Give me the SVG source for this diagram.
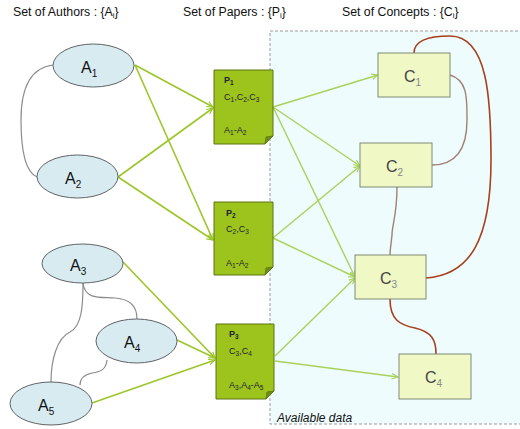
<svg xmlns="http://www.w3.org/2000/svg" width="520" height="429" viewBox="0 0 520 429">
<style>
text{font-family:"Liberation Sans",Arial,sans-serif}
.hdr{font-size:12.3px;fill:#111}
.auth ellipse{fill:#d8ebf1;stroke:#5f6366;stroke-width:1}
.auth text{font-size:16px;fill:#111}
.paper .pg{fill:#9cc41c;stroke:#5d7412;stroke-width:1}
.paper .fold{fill:#6f8f14;stroke:#5d7412;stroke-width:0.8}
.paper text{font-size:9px;fill:#223}
.paper .ps{font-size:6.5px}
.con rect{fill:#f0f8c6;stroke:#7d8a74;stroke-width:1}
.con text{font-size:16px;fill:#444}
.sub{font-size:10px}
.hsub{font-size:8px}
.csub{font-size:10px;fill:#888}
.a1{stroke:#9cc62a;stroke-width:1.6;fill:none;marker-end:url(#ah)}
.a2{stroke:#a9d25a;stroke-width:1.4;fill:none;marker-end:url(#ah2)}
.g{stroke:#8b8b8b;stroke-width:1.2;fill:none}
.br{stroke:#a8401c;stroke-width:1.6;fill:none}
.lb{stroke:#a08272;stroke-width:1.4;fill:none}
</style>
<defs>
<marker id="ah" viewBox="0 0 10 10" refX="9" refY="5" markerWidth="7" markerHeight="7" orient="auto" markerUnits="userSpaceOnUse">
<path d="M0,1 L9,5 L0,9" fill="none" stroke="#9cc62a" stroke-width="1.6"/>
</marker>
<marker id="ah2" viewBox="0 0 10 10" refX="9" refY="5" markerWidth="7" markerHeight="7" orient="auto" markerUnits="userSpaceOnUse">
<path d="M0,1 L9,5 L0,9" fill="none" stroke="#a9d25a" stroke-width="1.6"/>
</marker>
</defs>
<rect width="520" height="429" fill="#ffffff"/>
<g id="available-data">
<rect x="270" y="31" width="252" height="393" fill="#effcfd" stroke="#9a9a9a" stroke-width="1" stroke-dasharray="3,2"/>
<text x="277" y="422" font-size="12" font-style="italic" fill="#111">Available data</text>
</g>
<g id="headers">
<text class="hdr" x="13" y="16">Set of Authors : {A<tspan class="hsub" dy="2">i</tspan><tspan dy="-2">}</tspan></text>
<text class="hdr" x="183" y="16">Set of Papers : {P<tspan class="hsub" dy="2">i</tspan><tspan dy="-2">}</tspan></text>
<text class="hdr" x="342" y="16">Set of Concepts : {C<tspan class="hsub" dy="2">i</tspan><tspan dy="-2">}</tspan></text>
</g>
<g id="connectors">
<path class="g" d="M53,65 C28,68 21,92 21,120 C21,150 25,172 37,177"/>
<path class="g" d="M83,283 C85,300 100,297 115,298 C130,299 137,306 137,319"/>
<path class="g" d="M83,283 C83,305 82,326 70,332 C57,338 51,360 51,382"/>
<path class="g" d="M107,360 C106,370 100,372 92,373 C83,375 80,380 80,385"/>
<path class="a1" d="M135,65 L213,107"/>
<path class="a1" d="M135,65 L213,240"/>
<path class="a1" d="M118,177 L213,108"/>
<path class="a1" d="M118,177 L213,240"/>
<path class="a1" d="M123,262 L215,358"/>
<path class="a1" d="M177,340 L215,358"/>
<path class="a1" d="M92,403 L215,360"/>
<path class="a2" d="M273,107 L378,75"/>
<path class="a2" d="M273,107 L360,166"/>
<path class="a2" d="M273,107 L355,277"/>
<path class="a2" d="M273,238 L360,166"/>
<path class="a2" d="M273,238 L355,277"/>
<path class="a2" d="M275,356 L355,278"/>
<path class="a2" d="M275,361 L398,377"/>
<path class="br" d="M414,53 C414,40 430,36 450,36 C488,36 491,100 491,160 C491,240 470,275 426,278"/>
<path class="lb" d="M450,75 C468,80 467,100 467,120 C467,150 455,165 432,165"/>
<path class="lb" d="M397,187 C397,215 392,225 392,235 C391,245 390,250 390,255"/>
<path class="br" d="M390,299 C390,320 400,325 415,328 C432,332 436,340 436,354"/>
</g>
<g id="A1" class="auth"><ellipse cx="93.5" cy="65.5" rx="40.5" ry="21.5"/><text x="81" y="73">A<tspan class="sub" dy="4">1</tspan></text></g>
<g id="A2" class="auth"><ellipse cx="77.5" cy="176.5" rx="40.5" ry="21.5"/><text x="65" y="184">A<tspan class="sub" dy="4">2</tspan></text></g>
<g id="A3" class="auth"><ellipse cx="82.5" cy="263.5" rx="40.5" ry="19.5"/><text x="70" y="271">A<tspan class="sub" dy="4">3</tspan></text></g>
<g id="A4" class="auth"><ellipse cx="136.5" cy="341" rx="40.5" ry="22"/><text x="124" y="348">A<tspan class="sub" dy="4">4</tspan></text></g>
<g id="A5" class="auth"><ellipse cx="51" cy="403.5" rx="41" ry="21.5"/><text x="38" y="411">A<tspan class="sub" dy="4">5</tspan></text></g>
<g id="P1" class="paper">
<path class="pg" d="M214,70 H273 V136 L265,144 H214 Z"/>
<path class="fold" d="M273,136 L265,144 L266,137 Z"/>
<text x="224" y="83" font-weight="bold">P<tspan class="ps" dy="2">1</tspan></text>
<text x="224" y="100">C<tspan class="ps" dy="2">1</tspan><tspan dy="-2">,C</tspan><tspan class="ps" dy="2">2</tspan><tspan dy="-2">,C</tspan><tspan class="ps" dy="2">3</tspan></text>
<text x="224" y="133">A<tspan class="ps" dy="2">1</tspan><tspan dy="-2">-A</tspan><tspan class="ps" dy="2">2</tspan></text>
</g>
<g id="P2" class="paper">
<path class="pg" d="M214,202 H273 V267 L265,275 H214 Z"/>
<path class="fold" d="M273,267 L265,275 L266,268 Z"/>
<text x="226" y="216" font-weight="bold">P<tspan class="ps" dy="2">2</tspan></text>
<text x="226" y="232">C<tspan class="ps" dy="2">2</tspan><tspan dy="-2">,C</tspan><tspan class="ps" dy="2">3</tspan></text>
<text x="226" y="266">A<tspan class="ps" dy="2">1</tspan><tspan dy="-2">-A</tspan><tspan class="ps" dy="2">2</tspan></text>
</g>
<g id="P3" class="paper">
<path class="pg" d="M216,324 H274 V391 L266,399 H216 Z"/>
<path class="fold" d="M274,391 L266,399 L267,392 Z"/>
<text x="229" y="337" font-weight="bold">P<tspan class="ps" dy="2">3</tspan></text>
<text x="229" y="354">C<tspan class="ps" dy="2">3</tspan><tspan dy="-2">,C</tspan><tspan class="ps" dy="2">4</tspan></text>
<text x="229" y="388">A<tspan class="ps" dy="2">3</tspan><tspan dy="-2">,A</tspan><tspan class="ps" dy="2">4</tspan><tspan dy="-2">-A</tspan><tspan class="ps" dy="2">5</tspan></text>
</g>
<g id="C1" class="con"><rect x="378" y="53" width="72" height="44"/><text x="404" y="82">C<tspan class="csub" dy="4">1</tspan></text></g>
<g id="C2" class="con"><rect x="360" y="143" width="72" height="44"/><text x="386" y="172">C<tspan class="csub" dy="4">2</tspan></text></g>
<g id="C3" class="con"><rect x="355" y="255" width="71" height="44"/><text x="380" y="284">C<tspan class="csub" dy="4">3</tspan></text></g>
<g id="C4" class="con"><rect x="399" y="354" width="72" height="45"/><text x="425" y="383">C<tspan class="csub" dy="4">4</tspan></text></g>
</svg>
